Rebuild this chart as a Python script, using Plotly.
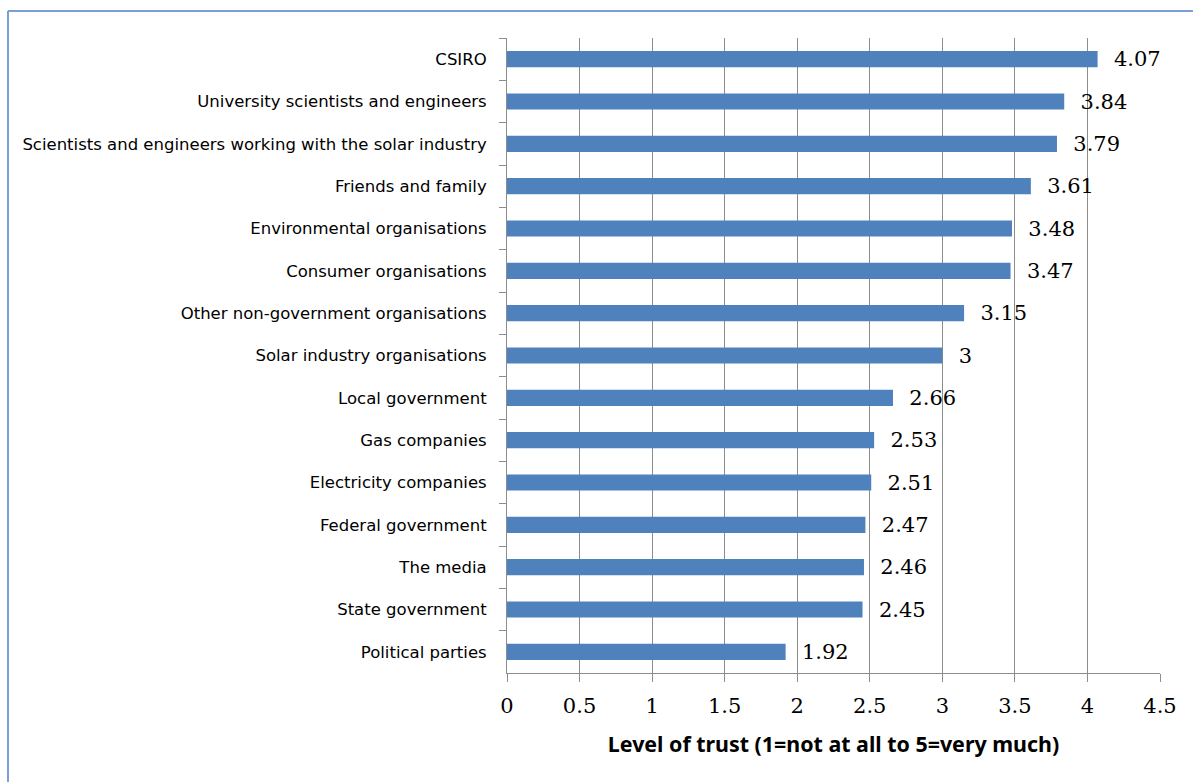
import plotly.graph_objects as go

categories = [
    "CSIRO",
    "University scientists and engineers",
    "Scientists and engineers working with the solar industry",
    "Friends and family",
    "Environmental organisations",
    "Consumer organisations",
    "Other non-government organisations",
    "Solar industry organisations",
    "Local government",
    "Gas companies",
    "Electricity companies",
    "Federal government",
    "The media",
    "State government",
    "Political parties",
]
trust = [4.07, 3.84, 3.79, 3.61, 3.48, 3.47, 3.15, 3.0, 2.66, 2.53, 2.51, 2.47, 2.46, 2.45, 1.92]
value_labels = ["4.07", "3.84", "3.79", "3.61", "3.48", "3.47", "3.15", "3", "2.66",
                "2.53", "2.51", "2.47", "2.46", "2.45", "1.92"]
x_ticks = [0, 0.5, 1, 1.5, 2, 2.5, 3, 3.5, 4, 4.5]
x_tick_labels = ["0", "0.5", "1", "1.5", "2", "2.5", "3", "3.5", "4", "4.5"]
x_title = "Level of trust (1=not at all to 5=very much)"

W, H = 1193, 782
L, R, T, B = 507, 33, 38, 109
pw, ph = W - L - R, H - T - B

fig = go.Figure()
fig.add_trace(go.Bar(
    x=trust,
    y=categories,
    orientation="h",
    marker=dict(color="#4F81BD", line=dict(width=0)),
    text=["\u00a0\u00a0" + t for t in value_labels],
    textposition="outside",
    constraintext="none",
    cliponaxis=False,
    textfont=dict(family="DejaVu Serif", size=21, color="#000000"),
    hoverinfo="skip",
))

def px_to_paper_x(px):
    return (px - L) / pw

def px_to_paper_y(py):
    return 1 - (py - T) / ph

frame_color = "#7A9FD6"
fig.add_shape(type="line", xref="paper", yref="paper",
              x0=px_to_paper_x(8), x1=px_to_paper_x(W + 5),
              y0=px_to_paper_y(11), y1=px_to_paper_y(11),
              line=dict(color=frame_color, width=2))
fig.add_shape(type="line", xref="paper", yref="paper",
              x0=px_to_paper_x(8), x1=px_to_paper_x(8),
              y0=px_to_paper_y(11), y1=px_to_paper_y(H + 5),
              line=dict(color=frame_color, width=2))

fig.update_layout(
    width=W, height=H,
    margin=dict(l=L, r=R, t=T, b=B, pad=0),
    paper_bgcolor="white",
    plot_bgcolor="white",
    bargap=0.62,
    showlegend=False,
    xaxis=dict(
        range=[0, 4.5],
        tickvals=x_ticks,
        ticktext=x_tick_labels,
        showgrid=True,
        gridcolor="#8C8C8C",
        gridwidth=1,
        showline=True,
        linecolor="#8C8C8C",
        linewidth=1,
        ticks="outside",
        ticklen=8,
        tickcolor="#8C8C8C",
        ticklabelstandoff=6,
        tickfont=dict(family="DejaVu Serif", size=21, color="#000000"),
        zeroline=False,
        title=dict(text="<b>" + x_title + "</b>",
                   font=dict(family="Noto Sans", size=21.4, color="#000000"),
                   standoff=19),
        fixedrange=True,
    ),
    yaxis=dict(
        autorange="reversed",
        showgrid=False,
        showline=True,
        linecolor="#8C8C8C",
        linewidth=1,
        ticks="outside",
        tickson="boundaries",
        ticklen=7,
        tickcolor="#8C8C8C",
        ticklabelstandoff=16,
        tickfont=dict(family="DejaVu Sans", size=16.5, color="#000000"),
        fixedrange=True,
    ),
)

fig.write_html("out.html")
